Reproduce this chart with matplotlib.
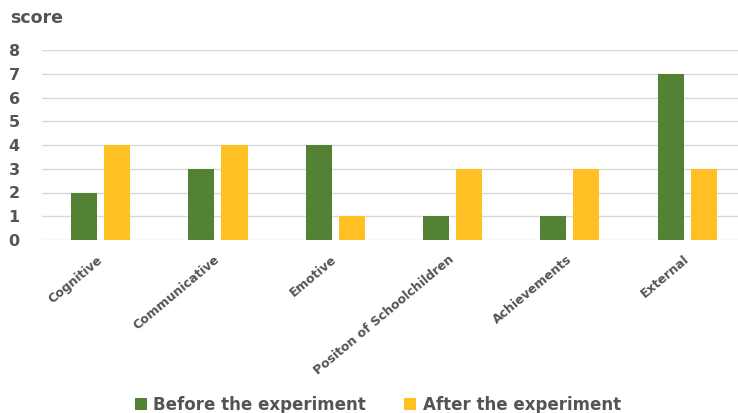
import matplotlib
matplotlib.use("Agg")
import matplotlib.pyplot as plt
import numpy as np

categories = ["Cognitive", "Communicative", "Emotive", "Positon of Schoolchildren", "Achievements", "External"]
before = [2, 3, 4, 1, 1, 7]
after = [4, 4, 1, 3, 3, 3]
series_names = ["Before the experiment", "After the experiment"]
yticks = [0, 1, 2, 3, 4, 5, 6, 7, 8]

GREEN = "#548235"
YELLOW = "#FFC024"
TEXT = "#545454"
GRID = "#D9D9D9"

plt.rcParams['font.family'] = ['DejaVu Sans']
plt.rcParams['font.weight'] = 'bold'

W, H = 738, 413
fig = plt.figure(figsize=(W / 100, H / 100), dpi=100)
ax = fig.add_axes([42 / W, 173 / H, (W - 42) / W, 190 / H])

x = np.arange(len(categories))
bw = 0.222
off = 0.141
ax.bar(x - off, before, bw, color=GREEN, label=series_names[0], zorder=3)
ax.bar(x + off, after, bw, color=YELLOW, label=series_names[1], zorder=3)

ax.set_xlim(-0.5, -0.5 + (W - 42) / 117.3)
ax.set_ylim(0, 8)
ax.set_yticks(yticks)
ax.set_yticklabels([str(t) for t in yticks], fontsize=11.5, fontweight='bold', color=TEXT)
ax.yaxis.grid(True, color=GRID, linewidth=1.0, zorder=0)
ax.set_axisbelow(True)
for s in ax.spines.values():
    s.set_visible(False)
ax.tick_params(axis='y', length=0, pad=16)
ax.tick_params(axis='x', length=0, pad=13)

ax.set_xticks(x)
ax.set_xticklabels(categories, rotation=40, ha='right', va='center', rotation_mode='anchor',
                   fontsize=9, fontweight='bold', color=TEXT)

fig.text(10 / W, 1 - 23 / H, "score", fontsize=12.5, fontweight='bold', color=TEXT,
         ha='left', va='baseline')

leg = fig.legend(loc='center', bbox_to_anchor=(378 / W, 1 - 405 / H), ncol=2, frameon=False,
                 prop={'size': 12, 'weight': 'bold'}, handlelength=0.72, handleheight=0.72,
                 handletextpad=0.4, columnspacing=2.3, borderaxespad=0, borderpad=0)
for t in leg.get_texts():
    t.set_color(TEXT)

fig.savefig("out.png", dpi=100)
